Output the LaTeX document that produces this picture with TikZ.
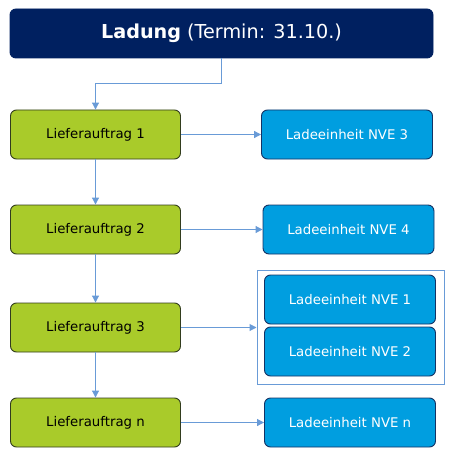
\documentclass[tikz,border=0pt]{standalone}
\usepackage{fontspec}
\setmainfont{DejaVu Sans}
\usetikzlibrary{arrows.meta}
\definecolor{navy}{RGB}{0,32,96}
\definecolor{lgreen}{RGB}{169,203,42}
\definecolor{gborder}{RGB}{50,60,30}
\definecolor{lblue}{RGB}{0,158,224}
\definecolor{bborder}{RGB}{20,50,100}
\definecolor{conn}{RGB}{105,155,215}
\tikzset{
  box/.style={rounded corners=6pt, minimum width=170pt, minimum height=49pt, inner sep=0pt, line width=0.9pt, font=\fontsize{13.3}{15}\selectfont},
  order/.style={box, draw=gborder, fill=lgreen, text=black},
  unit/.style={box, draw=bborder, fill=lblue, text=white, minimum width=171pt},
  conn/.style={draw=conn, line width=1pt, -{Triangle[length=7pt,width=7pt]}},
}
\begin{document}
\begin{tikzpicture}[x=1pt,y=-1pt]
\useasboundingbox (0,0) rectangle (464,468);
\node[box, draw=navy, fill=navy, text=white, minimum width=423pt, minimum height=49pt, font=\fontsize{19.2}{21}\selectfont] (top) at (221.5,33.5) {\textbf{Ladung} (Termin: 31.10.)};
\node[order] (l1) at (95.5,134.5) {Lieferauftrag 1};
\node[order] (l2) at (95.5,229.5) {Lieferauftrag 2};
\node[order] (l3) at (95.5,327.5) {Lieferauftrag 3};
\node[order] (ln) at (95.5,422.5) {Lieferauftrag n};
\node[unit] (u3) at (347,134.5) {Ladeeinheit NVE 3};
\node[unit] (u4) at (348.5,229.5) {Ladeeinheit NVE 4};
\node[unit] (u1) at (350,299.5) {Ladeeinheit NVE 1};
\node[unit] (u2) at (350,351.5) {Ladeeinheit NVE 2};
\node[unit] (un) at (350,422.5) {Ladeeinheit NVE n};
\node[draw=conn, line width=1pt, minimum width=187pt, minimum height=114pt, inner sep=0pt] (grp) at (350.5,327) {};
\coordinate (bend) at (top.south |- 0,84);
\draw[conn] (top.south) -- (bend) -| (l1.north);
\draw[conn] (l1) -- (l2);
\draw[conn] (l2) -- (l3);
\draw[conn] (l3) -- (ln);
\draw[conn] (l1) -- (u3);
\draw[conn] (l2) -- (u4);
\draw[conn] (l3.east) -- (grp.west |- l3.east);
\draw[conn] (ln) -- (un);
\end{tikzpicture}
\end{document}
